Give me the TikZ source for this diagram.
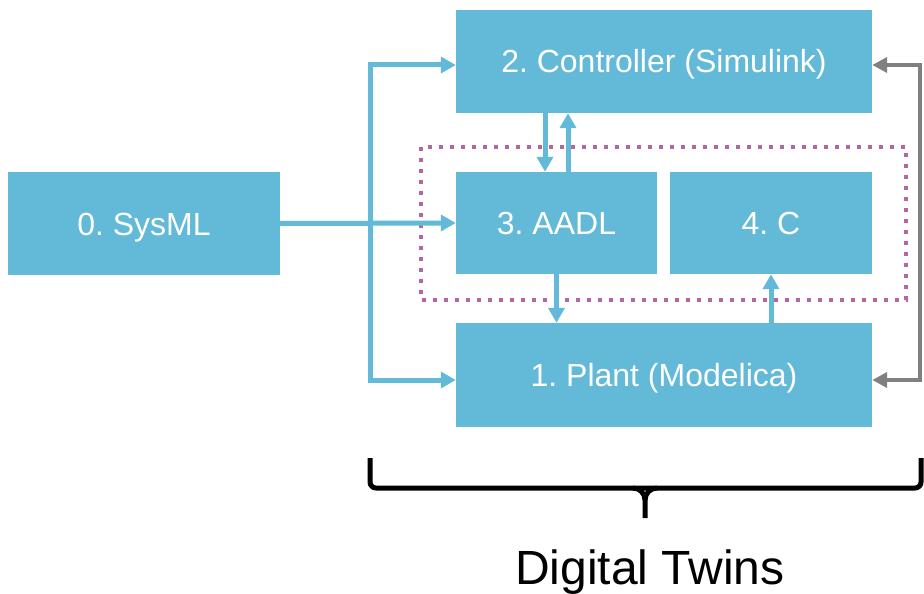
\documentclass[tikz,border=0pt]{standalone}
\usepackage{fontspec}
\setmainfont{Liberation Sans}
\usetikzlibrary{arrows.meta,calc}
\definecolor{boxblue}{RGB}{99,185,216}
\definecolor{dotpink}{RGB}{181,101,160}
\definecolor{busgray}{RGB}{128,128,128}
\frenchspacing

\begin{document}
\begin{tikzpicture}[x=1pt,y=-1pt,
  block/.style={fill=boxblue, draw=none, text=white, font=\fontsize{32}{36}\selectfont, inner sep=0pt, text height=26pt, text depth=3pt},
  barrow/.style={draw=boxblue, line width=5pt, -{Triangle[length=15pt,width=16pt]}},
  garrow/.style={draw=busgray, line width=4pt, -{Triangle[length=15pt,width=15pt]}}]

\useasboundingbox (0,0) rectangle (924,594);

\node[block, minimum width=272pt, minimum height=103pt] (sysml) at (144,223.5) {0. SysML};
\node[block, minimum width=416pt, minimum height=103pt] (ctrl) at (664,61.5) {2. Controller (Simulink)};
\node[block, minimum width=201pt, minimum height=102pt] (aadl) at (556.5,223) {3. AADL};
\node[block, minimum width=202pt, minimum height=102pt] (cnode) at (771,223) {4. C};
\node[block, minimum width=416pt, minimum height=104pt] (plant) at (664,375) {1. Plant (Modelica)};

% dotted frame round AADL and C
\draw[dotpink, line width=4pt, dash pattern=on 4pt off 7pt] (421,147) rectangle (906,300);

\coordinate (busl) at (370,224);
\coordinate (busr) at (920,224);

\draw[barrow] (sysml.east) -- (aadl.west);
\draw[barrow] (busl) |- ([yshift=-3.5pt]ctrl.west);
\draw[barrow] (busl) |- ([yshift=-5pt]plant.west);

\draw[garrow] (busr) |- ([yshift=-3.5pt]ctrl.east);
\draw[garrow] (busr) |- ([yshift=-5pt]plant.east);

\draw[barrow] ([xshift=-11.5pt]aadl.north |- ctrl.south) -- ([xshift=-11.5pt]aadl.north);
\draw[barrow] ([xshift=11.5pt]aadl.north) -- ([xshift=11.5pt]aadl.north |- ctrl.south);
\draw[barrow] (aadl.south) -- (aadl.south |- plant.north);
\draw[barrow] (cnode.south |- plant.north) -- (cnode.south);

% brace
\draw[line width=5pt, rounded corners=6pt] (370,458) -- (370,488) -- (921,488) -- (921,458);
\draw[line width=5pt] (633,488) to[out=0,in=90] (645,500) -- (645,518);
\draw[line width=5pt] (657,488) to[out=180,in=90] (645,500);

\node[font=\fontsize{48}{54}\selectfont, anchor=base] (twins) at (650,584) {Digital Twins};

\end{tikzpicture}
\end{document}
